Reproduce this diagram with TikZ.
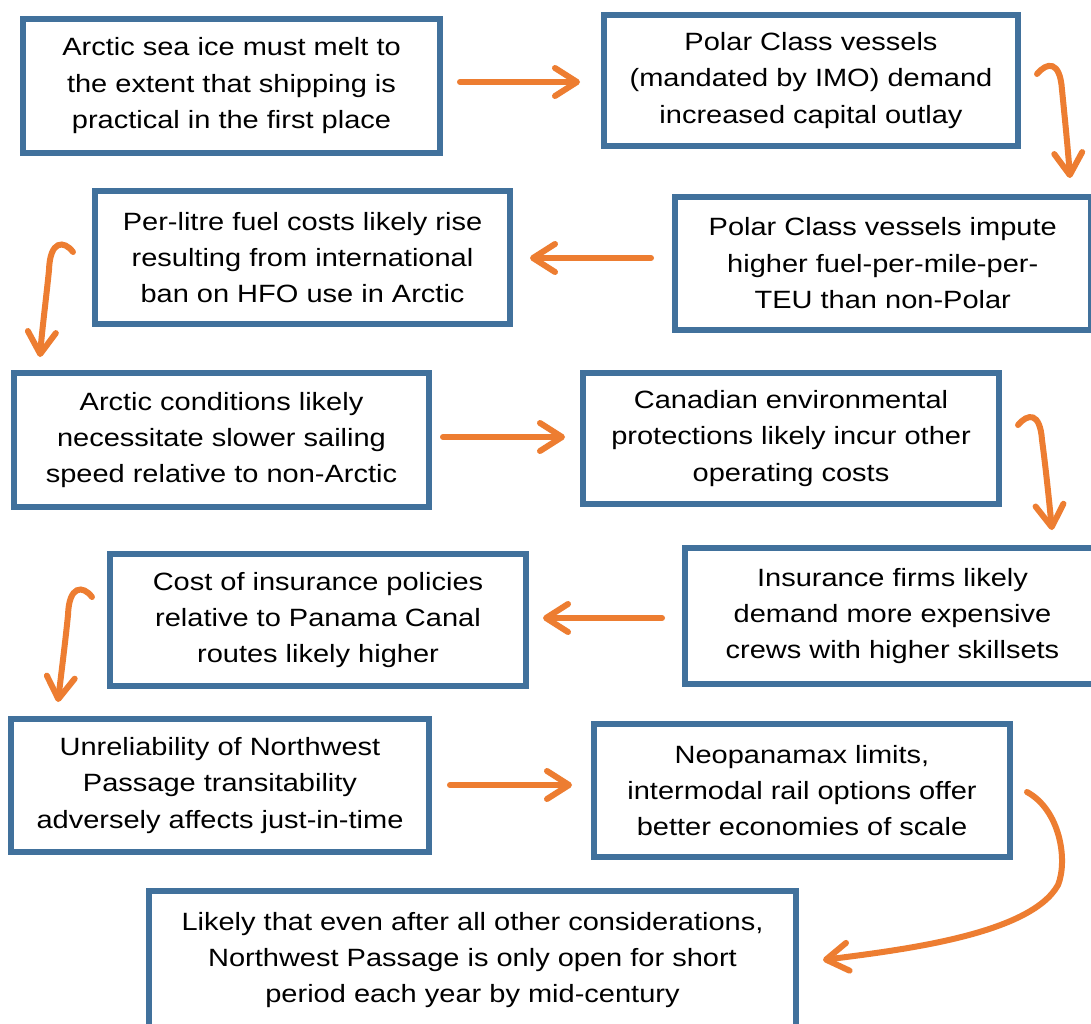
\documentclass[tikz,border=0pt]{standalone}
\usepackage{fontspec}
\setmainfont{Liberation Sans}[FakeStretch=1.16]
\usetikzlibrary{arrows.meta}
\definecolor{boxblue}{HTML}{41719C}
\definecolor{arrorange}{HTML}{ED7D31}
\tikzset{
  flowbox/.style={draw=boxblue, line width=6pt, fill=white, rectangle, align=center,
    inner sep=0pt, font=\fontsize{25}{36.3}\selectfont,
    execute at begin node={\rule{0pt}{24pt}}},
  flowarrow/.style={draw=arrorange, line width=6pt, line cap=round,
    -{Straight Barb[length=22pt,width=28pt,round]}}
}
\begin{document}
\begin{tikzpicture}[x=1pt,y=-1pt]
\useasboundingbox (0,0) rectangle (1091,1023);
\clip (0,0) rectangle (1091,1023);
\fill[white] (0,0) rectangle (1091,1023);

\node[flowbox, minimum width=417pt, minimum height=133.5pt] (A) at (231.5,85.75)
  {Arctic sea ice must melt to\\the extent that shipping is\\practical in the first place};
\node[flowbox, minimum width=414pt, minimum height=131pt] (B) at (811,80.5)
  {Polar Class vessels\\(mandated by IMO) demand\\increased capital outlay};
\node[flowbox, minimum width=416.5pt, minimum height=133.5pt] (C) at (882.75,263.25)
  {Polar Class vessels impute\\higher fuel-per-mile-per-\\TEU than non-Polar};
\node[flowbox, minimum width=415pt, minimum height=133pt] (D) at (302.5,257.5)
  {Per-litre fuel costs likely rise\\resulting from international\\ban on HFO use in Arctic};
\node[flowbox, minimum width=415pt, minimum height=134pt] (E) at (221.5,440)
  {Arctic conditions likely\\necessitate slower sailing\\speed relative to non-Arctic};
\node[flowbox, minimum width=416pt, minimum height=131pt] (F) at (791,438.5)
  {Canadian environmental\\protections likely incur other\\operating costs};
\node[flowbox, minimum width=415pt, minimum height=136pt] (G) at (892.5,616)
  {Insurance firms likely\\demand more expensive\\crews with higher skillsets};
\node[flowbox, minimum width=416pt, minimum height=132pt] (H) at (318,620)
  {Cost of insurance policies\\relative to Panama Canal\\routes likely higher};
\node[flowbox, minimum width=418pt, minimum height=133pt] (I) at (220,785.5)
  {Unreliability of Northwest\\Passage transitability\\adversely affects just-in-time};
\node[flowbox, minimum width=416pt, minimum height=133pt] (J) at (802,790.5)
  {Neopanamax limits,\\intermodal rail options offer\\better economies of scale};
\node[flowbox, minimum width=647pt, minimum height=138pt] (K) at (472.5,960)
  {Likely that even after all other considerations,\\Northwest Passage is only open for short\\period each year by mid-century};

% straight arrows
\coordinate (ab1) at (460,82);   \coordinate (ab2) at (580,82);
\coordinate (cd1) at (651,258);  \coordinate (cd2) at (530,258);
\coordinate (ef1) at (443,437);  \coordinate (ef2) at (565,437);
\coordinate (gh1) at (662,618);  \coordinate (gh2) at (543,618);
\coordinate (ij1) at (450,785);  \coordinate (ij2) at (572,785);
\draw[flowarrow] (ab1) -- (ab2);
\draw[flowarrow] (cd1) -- (cd2);
\draw[flowarrow] (ef1) -- (ef2);
\draw[flowarrow] (gh1) -- (gh2);
\draw[flowarrow] (ij1) -- (ij2);

% hooked arrows
\coordinate (bc1) at (1037,74);  \coordinate (bc2) at (1070,178);
\draw[flowarrow] (bc1) .. controls (1047,62) and (1060,60) .. (1062,90)
  .. controls (1065,120) and (1068,150) .. (bc2);
\coordinate (de1) at (73,252);   \coordinate (de2) at (40,357);
\draw[flowarrow] (de1) .. controls (64,240) and (50,240) .. (49,270)
  .. controls (46,300) and (42,330) .. (de2);
\coordinate (fg1) at (1018,425); \coordinate (fg2) at (1052,530);
\draw[flowarrow] (fg1) .. controls (1028,413) and (1040,412) .. (1042,440)
  .. controls (1046,470) and (1049,500) .. (fg2);
\coordinate (hi1) at (92,597);   \coordinate (hi2) at (58,702);
\draw[flowarrow] (hi1) .. controls (83,585) and (69,585) .. (68,615)
  .. controls (65,645) and (61,675) .. (hi2);
\coordinate (jk1) at (1027,792); \coordinate (jk2) at (823,960);
\draw[flowarrow] (jk1) .. controls (1060,810) and (1068,860) .. (1058,885)
  .. controls (1030,935) and (900,950) .. (jk2);
\end{tikzpicture}
\end{document}
